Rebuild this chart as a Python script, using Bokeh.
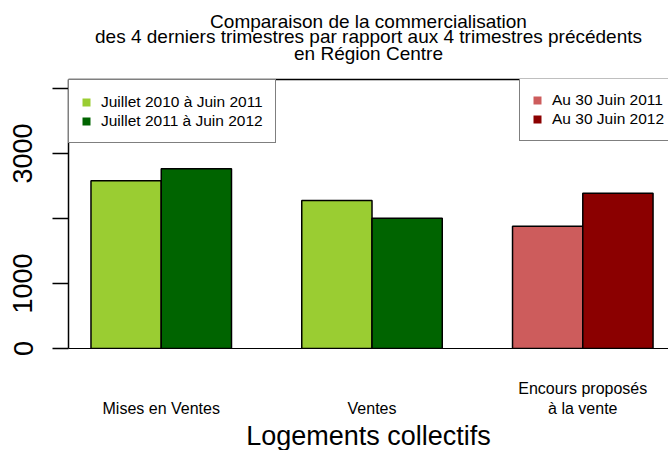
from bokeh.plotting import figure
from bokeh.models import (Range1d, LinearAxis, FixedTicker, Legend, LegendItem,
                          Title, ColumnDataSource)
from bokeh.embed import file_html
from bokeh.resources import INLINE

# ---------------- data ----------------
title_lines = ["Comparaison de la commercialisation",
               "des 4 derniers trimestres par rapport aux 4 trimestres précédents",
               "en Région Centre"]
category_line1 = ["", "", "Encours proposés"]
category_line2 = ["Mises en Ventes", "Ventes", "à la vente"]
x_title = "Logements collectifs"
legend_green = ["Juillet 2010 à Juin 2011", "Juillet 2011 à Juin 2012"]
legend_red = ["Au 30 Juin 2011", "Au 30 Juin 2012"]
values_previous = [2580, 2277, 1882]
values_current = [2765, 2005, 2389]
colors_previous = ["#9ACD32", "#9ACD32", "#CD5C5C"]
colors_current = ["#006400", "#006400", "#8B0000"]
y_ticks = [0, 1000, 2000, 3000, 4000]
y_tick_labels = ["0", "1000", "", "3000", ""]

FONT = "Liberation Sans"

# group layout (R barplot beside=TRUE, space=c(0,1))
n = len(values_previous)
x_prev = [3 * i + 1.5 for i in range(n)]
x_curr = [3 * i + 2.5 for i in range(n)]
x_centers = [3 * i + 2 for i in range(n)]

p = figure(width=668, height=450, output_backend="svg", toolbar_location=None,
           title=None, x_range=Range1d(0.68, 9.22), y_range=Range1d(0, 4140),
           x_axis_type=None, y_axis_type=None,
           min_border_left=68, min_border_right=0, min_border_top=79,
           min_border_bottom=102)
p.outline_line_color = None
p.background_fill_color = "white"
p.border_fill_color = "white"

src_prev = ColumnDataSource(dict(x=x_prev, top=values_previous, color=colors_previous))
src_curr = ColumnDataSource(dict(x=x_curr, top=values_current, color=colors_current))
p.vbar(x="x", top="top", bottom=0, width=1, source=src_prev,
       fill_color="color", line_color="black", line_width=1.5)
p.vbar(x="x", top="top", bottom=0, width=1, source=src_curr,
       fill_color="color", line_color="black", line_width=1.5)

# y axis
yaxis = LinearAxis(ticker=FixedTicker(ticks=y_ticks),
                   major_label_overrides={t: l for t, l in zip(y_ticks, y_tick_labels)},
                   major_label_orientation="vertical",
                   major_label_text_font=FONT, major_label_text_font_size="27px",
                   major_label_text_color="black",
                   major_tick_out=16, major_tick_in=0, major_tick_line_width=1.5,
                   major_tick_line_color="black",
                   minor_tick_line_color=None, minor_tick_out=0, minor_tick_in=0,
                   axis_line_color="black", axis_line_width=1.5,
                   major_label_standoff=20)
p.add_layout(yaxis, "left")

# top frame line; its invisible ticks give a spacer under the title
top_axis = LinearAxis(ticker=FixedTicker(ticks=x_centers),
                      major_label_overrides={t: "" for t in x_centers},
                      major_tick_out=16, major_tick_in=0, major_tick_line_color=None,
                      minor_tick_line_color=None, minor_tick_out=0, minor_tick_in=0,
                      major_label_standoff=0, major_label_text_font_size="0px",
                      axis_line_color="black", axis_line_width=1.5)
p.add_layout(top_axis, "above")

# bottom: category labels on two lines
xaxis1 = LinearAxis(ticker=FixedTicker(ticks=x_centers),
                    major_label_overrides={t: l for t, l in zip(x_centers, category_line1)},
                    major_tick_line_color=None, major_tick_out=0, major_tick_in=0,
                    minor_tick_line_color=None, minor_tick_out=0, minor_tick_in=0,
                    axis_line_color="black", axis_line_width=1.2,
                    major_label_standoff=31,
                    major_label_text_font=FONT, major_label_text_font_size="16px",
                    major_label_text_color="black")
p.add_layout(xaxis1, "below")
xaxis2 = LinearAxis(ticker=FixedTicker(ticks=x_centers),
                    major_label_overrides={t: l for t, l in zip(x_centers, category_line2)},
                    major_tick_line_color=None, major_tick_out=0, major_tick_in=0,
                    minor_tick_line_color=None, minor_tick_out=0, minor_tick_in=0,
                    axis_line_color=None, major_label_standoff=0,
                    major_label_text_font=FONT, major_label_text_font_size="16px",
                    major_label_text_color="black")
p.add_layout(xaxis2, "below")
p.add_layout(Title(text=x_title, align="center", offset=4, standoff=-1,
                   text_font=FONT, text_font_size="27px", text_font_style="normal",
                   text_color="black"), "below")

# titles (added from the frame outward)
title_standoffs = [-2, -13, 0]
for line, so in reversed(list(zip(title_lines, title_standoffs))):
    p.add_layout(Title(text=line, align="center", offset=4, standoff=so,
                       text_font=FONT, text_font_size="19px",
                       text_font_style="normal", text_color="black"), "above")

# legend swatches: hidden copies of the bars without outline
def swatch(xs, tops, color):
    return p.vbar(x=xs, top=tops, bottom=0, width=1, fill_color=color,
                  line_color=None, visible=False)

g1 = swatch(x_prev[:2], values_previous[:2], colors_previous[0])
g2 = swatch(x_curr[:2], values_current[:2], colors_current[0])
r1 = swatch(x_prev[2:], values_previous[2:], colors_previous[2])
r2 = swatch(x_curr[2:], values_current[2:], colors_current[2])

common = dict(margin=0, padding=12, spacing=0, glyph_width=10, glyph_height=10,
              label_height=19, label_standoff=10, border_line_color="black",
              border_line_width=1.5, label_text_font=FONT, label_text_font_size="15.5px",
              label_text_color="black", background_fill_color="white",
              background_fill_alpha=1.0)
leg1 = Legend(items=[LegendItem(label=legend_green[0], renderers=[g1]),
                     LegendItem(label=legend_green[1], renderers=[g2])],
              location="top_left", **common)
leg2 = Legend(items=[LegendItem(label=legend_red[0], renderers=[r1]),
                     LegendItem(label=legend_red[1], renderers=[r2])],
              location=(451, 207), **common)
p.add_layout(leg1, "center")
p.add_layout(leg2, "center")

open("out.html", "w").write(file_html(p, INLINE))
